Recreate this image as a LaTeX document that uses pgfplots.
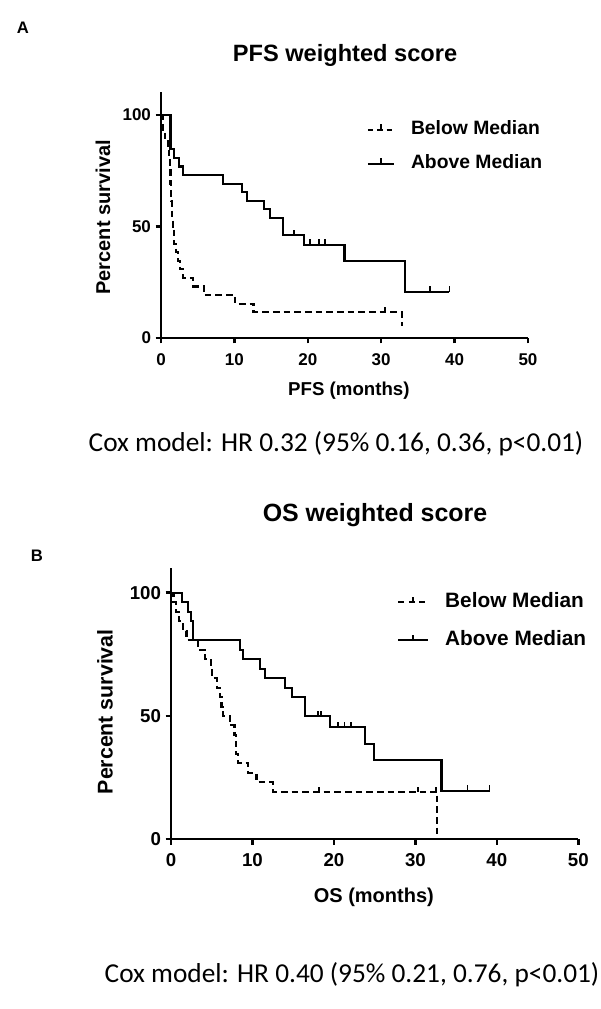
\documentclass[border=0pt]{standalone}
\usepackage{pgfplots}
\pgfplotsset{compat=1.18}
\usepackage{fontspec}
\setmainfont{Liberation Sans}
\newfontfamily\calibri{Carlito}

\pgfdeclareplotmark{cens}{\pgfpathmoveto{\pgfpoint{0pt}{0pt}}\pgfpathlineto{\pgfpoint{0pt}{4pt}}\pgfusepathqstroke}

\pgfplotsset{km/.style={
  scale only axis, xmin=0, xmax=50, ymin=0,
  axis x line*=bottom, axis y line*=left,
  axis line style={line width=1.8pt,-},
  tick align=outside, major tick length=4pt,
  every tick/.style={line width=1.8pt,black},
  xtick={0,10,...,50}, ytick={0,50,100},
  /pgf/number format/assume math mode=true,
  clip=false,
  legend cell align=left,
}}

\begin{document}
\begin{tikzpicture}[x=0.75pt,y=0.75pt]
\useasboundingbox (0,0) rectangle (600,1009);

% ---------- Panel A ----------
\node[font=\fontsize{12.5}{14}\selectfont\bfseries] at (23,981) {A};
\node[font=\fontsize{17.7}{20}\selectfont\bfseries] at (345,954) {PFS weighted score};
\begin{axis}[km, at={(120.75pt,503.25pt)}, anchor=south west, width=275.25pt, height=184.7pt, ymax=110.4,
  ticklabel style={font=\fontsize{12.75}{14}\selectfont\bfseries},
  xticklabel style={yshift=-4.5pt},
  xlabel={PFS (months)}, ylabel={Percent survival},
  xlabel style={font=\fontsize{14}{16}\selectfont\bfseries, at={(axis description cs:0.512,-0.215)}, anchor=center},
  ylabel style={font=\fontsize{15}{17}\selectfont\bfseries, at={(axis description cs:-0.158,0.49)}, anchor=center},
  legend style={at={(axis description cs:0.561,0.884)}, anchor=north west, draw=none, fill=none,
    inner sep=0pt, outer sep=0pt, row sep=11.5pt, column sep=12pt,
    font=\fontsize{14.5}{16}\selectfont\bfseries,
    nodes={inner sep=0pt, text height=11pt, text depth=3pt}},
]
\addplot[const plot, line width=1.6pt, dash pattern=on 5pt off 3pt,
  legend image code/.code={\draw[line width=1.6pt, dash pattern=on 4pt off 3pt] (0pt,0pt) -- (19.5pt,0pt); \draw[line width=1.3pt] (9.75pt,0pt) -- (9.75pt,4pt);}]
coordinates {(0,100)(0.2,92.3)(0.5,88.5)(0.9,84.6)(1.1,80.8)(1.2,76.9)(1.3,69.2)(1.4,61.5)(1.5,53.8)(1.6,50)(1.8,42.3)(2.1,38.5)(2.3,34.6)(2.6,30.8)(3.0,26.9)(4.4,23.1)(5.9,19.2)(10.1,15.4)(12.6,11.5)(32.8,5.5)};
\addlegendentry{Below Median}
\addplot[const plot, line width=1.6pt,
  legend image code/.code={\draw[line width=1.6pt] (0pt,0pt) -- (19.5pt,0pt); \draw[line width=1.3pt] (9.75pt,0pt) -- (9.75pt,4pt);}]
coordinates {(0,100)(1.3,84.6)(1.8,80.8)(2.4,76.9)(3.0,73.1)(8.5,69.2)(11,65.4)(11.7,61.5)(14,57.7)(14.9,53.8)(16.6,46.2)(19.5,41.8)(25,34.6)(33.3,20.7)(39.3,20.7)};
\addlegendentry{Above Median}
\addplot[only marks, mark=cens, mark options={line width=1.3pt}, forget plot]
coordinates {(30.5,11.5)};
\addplot[only marks, mark=cens, mark options={line width=1.3pt}, forget plot]
coordinates {(18.1,46.2)(20.3,41.8)(21.5,41.8)(22.3,41.8)(36.6,20.7)(39.3,20.7)};
\end{axis}
\node[font=\calibri\fontsize{20.5}{24}\selectfont] at (336,565.5) {Cox model: HR 0.32 (95\% 0.16, 0.36, p<0.01)};

% ---------- Panel B ----------
\node[font=\fontsize{12.5}{14}\selectfont\bfseries] at (37,453) {B};
\node[font=\fontsize{18.7}{21}\selectfont\bfseries] at (375,494) {OS weighted score};
\begin{axis}[km, at={(128.25pt,127.275pt)}, anchor=south west, width=305.5pt, height=203.5pt, ymax=110,
  ticklabel style={font=\fontsize{14}{16}\selectfont\bfseries},
  xticklabel style={yshift=-3pt},
  xlabel={OS (months)}, ylabel={Percent survival},
  xlabel style={font=\fontsize{15}{17}\selectfont\bfseries, at={(axis description cs:0.498,-0.213)}, anchor=center},
  ylabel style={font=\fontsize{16}{18}\selectfont\bfseries, at={(axis description cs:-0.162,0.47)}, anchor=center},
  legend style={at={(axis description cs:0.555,0.913)}, anchor=north west, draw=none, fill=none,
    inner sep=0pt, outer sep=0pt, row sep=13pt, column sep=12pt,
    font=\fontsize{15.6}{18}\selectfont\bfseries,
    nodes={inner sep=0pt, text height=12pt, text depth=3.5pt}},
]
\addplot[const plot, line width=1.6pt, dash pattern=on 5pt off 3pt,
  legend image code/.code={\draw[line width=1.6pt, dash pattern=on 4.5pt off 3.5pt] (0pt,0pt) -- (22.5pt,0pt); \draw[line width=1.3pt] (11.25pt,0pt) -- (11.25pt,4pt);}]
coordinates {(0,100)(0.3,96.2)(0.6,92.3)(1.0,88.5)(1.5,84.6)(1.9,80.8)(3.3,76.9)(4.2,73.1)(4.9,69.2)(5.0,65.4)(5.6,61.5)(6.0,57.7)(6.2,53.8)(6.4,50)(7.2,46.2)(7.8,42.3)(8.0,34.6)(8.2,30.8)(9.5,26.9)(10.5,23.1)(12.5,19.2)(32.7,0)};
\addlegendentry{Below Median}
\addplot[const plot, line width=1.6pt,
  legend image code/.code={\draw[line width=1.6pt] (0pt,0pt) -- (22.5pt,0pt); \draw[line width=1.3pt] (11.25pt,0pt) -- (11.25pt,4pt);}]
coordinates {(0,100)(1.4,96.2)(2.1,92.3)(2.5,88.5)(2.7,80.8)(8.5,76.9)(8.8,73.1)(10.9,69.2)(11.5,65.4)(14,61.5)(14.8,57.7)(16.4,50)(19.5,45.5)(23.8,38.6)(24.9,32.2)(33.2,19.7)(39.1,19.7)};
\addlegendentry{Above Median}
\addplot[only marks, mark=cens, mark options={line width=1.3pt}, forget plot]
coordinates {(18.2,19.2)(30.3,19.2)(32.5,19.2)};
\addplot[only marks, mark=cens, mark options={line width=1.3pt}, forget plot]
coordinates {(18,50)(18.4,50)(20.5,45.5)(21.3,45.5)(22.1,45.5)(36.4,19.7)(39.1,19.7)};
\end{axis}
\node[font=\calibri\fontsize{20.5}{24}\selectfont] at (352,34) {Cox model: HR 0.40 (95\% 0.21, 0.76, p<0.01)};
\end{tikzpicture}
\end{document}
